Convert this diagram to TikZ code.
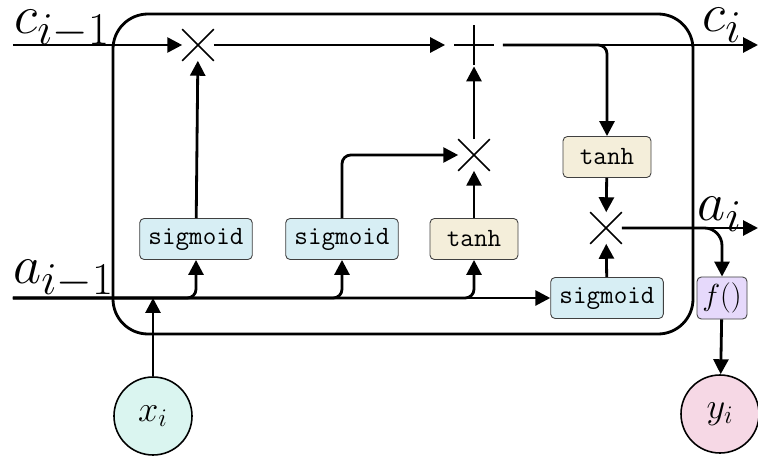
\documentclass[tikz,border=0pt]{standalone}
\usepackage{amsmath}
\usepackage{tikz}
\usetikzlibrary{arrows.meta,shapes.misc}

\definecolor{sigfill}{HTML}{D7EEF4}
\definecolor{tanhfill}{HTML}{F4EEDA}
\definecolor{outfill}{HTML}{E6D9FB}
\definecolor{xfill}{HTML}{DAF5F0}
\definecolor{yfill}{HTML}{F6D8E5}

\newcommand{\biglbl}[1]{\scalebox{1.25}{$#1$}}

\begin{document}
\begin{tikzpicture}[line width=1.6pt, >={Triangle[length=8.5pt,width=8.5pt]},
  gate/.style={draw=black!75, line width=0.5pt, rounded corners=2.5pt,
    font=\fontsize{15}{18}\selectfont\ttfamily, minimum height=0.82cm,
    minimum width=1.76cm, inner xsep=5pt},
  times/.style={draw, cross out, line width=0.9pt, minimum size=0.6cm},
  io/.style={draw, circle, line width=0.9pt, minimum size=1.56cm, font=\huge},
  lbl/.style={font=\Huge, anchor=base west, inner sep=0pt}]
  \useasboundingbox (0,0) rectangle (15.16,-9.18);

  % the cell
  \draw[rounded corners=0.7cm] (2.26,-0.28) rectangle (13.86,-6.68);

  % gates
  \node [gate, fill=sigfill] (sig1) at (3.92,-4.78) {sigmoid};
  \node [gate, fill=sigfill] (sig2) at (6.84,-4.78) {sigmoid};
  \node [gate, fill=tanhfill] (tanh1) at (9.48,-4.78) {tanh};
  \node [gate, fill=tanhfill] (tanh2) at (12.14,-3.14) {tanh};
  \node [gate, fill=sigfill] (sig3) at (12.14,-5.96) {sigmoid};
  \node [gate, fill=outfill, minimum width=1cm, minimum height=0.8cm,
    inner xsep=1pt, font=\LARGE] (fout) at (14.44,-5.96) {$f()$};

  % pointwise ops
  \node [times] (mul1) at (3.96,-0.9) {};
  \node [times] (mul2) at (9.48,-3.1) {};
  \node [times] (mul3) at (12.12,-4.56) {};
  \node [minimum width=1.1cm, minimum height=0.8cm] (add) at (9.48,-0.9) {};
  \draw[line width=0.9pt] ([xshift=-0.4cm]add.center) -- ([xshift=0.4cm]add.center)
    ([yshift=-0.4cm]add.center) -- ([yshift=0.4cm]add.center);

  % inputs and outputs
  \node [io, fill=xfill] (xi) at (3.06,-8.32) {$x_i$};
  \node [io, fill=yfill] (yi) at (14.4,-8.28) {$y_i$};
  \coordinate (cin) at (0.26,-0.9);
  \coordinate (ain) at (0.26,-5.96);
  \coordinate (cout) at (15.16,-0.9);
  \coordinate (aout) at (15.16,-4.56);
  \coordinate (xjoin) at (3.06,-5.96);

  \node [lbl] at (0.26,-0.66) {\biglbl{c_{i-1}}};
  \node [lbl] at (0.24,-5.66) {\biglbl{a_{i-1}}};
  \node [lbl] at (14.02,-0.62) {\biglbl{c_i}};
  \node [lbl] at (13.92,-4.4) {\biglbl{a_i}};

  % cell state
  \draw[->] (cin) -- (mul1);
  \draw[->] (mul1) -- (add);
  \draw[->] (add) -- (cout);
  \draw[->] (sig1) -- (mul1);
  \draw[->, rounded corners=5pt] (sig2) |- (mul2);
  \draw[->] (tanh1) -- (mul2);
  \draw[->] (mul2) -- (add);

  % hidden state
  \draw[->] (ain) -- (sig3);
  \draw[->] (xi) -- (xjoin);
  \draw[->, rounded corners=5pt] (ain) -| (sig1);
  \draw[->, rounded corners=5pt] (ain) -| (sig2);
  \draw[->, rounded corners=5pt] (ain) -| (tanh1);
  \draw[->, rounded corners=5pt] (add) -| (tanh2);
  \draw[->] (tanh2) -- (mul3);
  \draw[->] (sig3) -- (mul3);
  \draw[->] (mul3) -- (aout);
  \draw[->, rounded corners=10pt] (mul3) -| (fout);
  \draw[->] (fout) -- (yi);

\end{tikzpicture}
\end{document}
